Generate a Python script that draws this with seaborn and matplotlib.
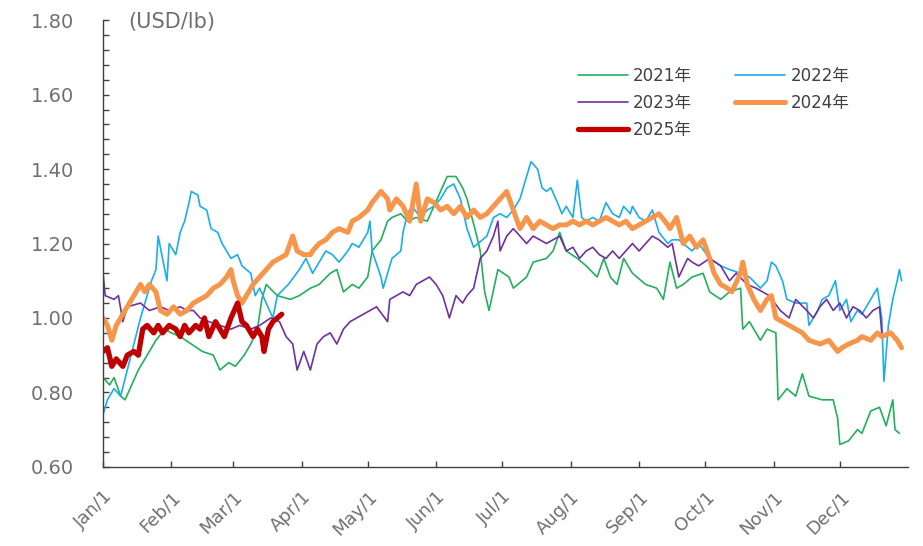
import pandas as pd
import seaborn as sns
import matplotlib.pyplot as plt
from matplotlib.ticker import MultipleLocator

sns.set_style('white')
plt.rcParams['font.family'] = ['DejaVu Sans', 'Noto Sans CJK JP']

# x轴：一年中的第几天，刻度放在每月1日
month_ticks = [0, 31, 59, 90, 120, 151, 181, 212, 243, 273, 304, 334]
month_labels = ['Jan/1', 'Feb/1', 'Mar/1', 'Apr/1', 'May/1', 'Jun/1',
                'Jul/1', 'Aug/1', 'Sep/1', 'Oct/1', 'Nov/1', 'Dec/1']

days_2021 = [0, 3, 5, 8, 10, 13, 16, 20, 24, 28, 31, 35, 40, 45, 50, 53, 57, 60, 64, 67,
             70, 72, 74, 79, 85, 89, 94, 98, 103, 106, 109, 113, 116, 120, 122, 126, 129, 131, 135, 138,
             142, 147, 150, 153, 156, 160, 163, 165, 169, 171, 173, 175, 179, 184, 186, 192, 195, 201, 204, 207,
             210, 215, 219, 224, 227, 230, 233, 236, 240, 246, 251, 254, 257, 260, 263, 267, 272, 275, 280, 284,
             289, 290, 293, 298, 301, 305, 306, 310, 314, 317, 320, 326, 331, 333, 334, 338, 342, 344, 348, 352,
             355, 358, 359, 361]
price_2021 = [0.84, 0.82, 0.84, 0.79, 0.78, 0.82, 0.86, 0.90, 0.94, 0.97, 0.96, 0.95, 0.93, 0.91, 0.90, 0.86, 0.88, 0.87, 0.90, 0.93,
              0.97, 1.05, 1.09, 1.06, 1.05, 1.06, 1.08, 1.09, 1.12, 1.13, 1.07, 1.09, 1.08, 1.11, 1.18, 1.21, 1.26, 1.27, 1.28, 1.26,
              1.27, 1.26, 1.30, 1.34, 1.38, 1.38, 1.35, 1.32, 1.23, 1.18, 1.07, 1.02, 1.13, 1.11, 1.08, 1.11, 1.15, 1.16, 1.18, 1.23,
              1.18, 1.16, 1.14, 1.11, 1.16, 1.11, 1.09, 1.16, 1.12, 1.09, 1.08, 1.05, 1.15, 1.08, 1.09, 1.11, 1.12, 1.07, 1.05, 1.07,
              1.08, 0.97, 0.99, 0.94, 0.97, 0.96, 0.78, 0.81, 0.79, 0.85, 0.79, 0.78, 0.78, 0.73, 0.66, 0.67, 0.70, 0.69, 0.75, 0.76,
              0.71, 0.78, 0.70, 0.69]

days_2022 = [0, 2, 5, 8, 11, 14, 17, 20, 22, 24, 25, 27, 29, 30, 33, 35, 37, 39, 40, 43,
             44, 47, 49, 52, 54, 58, 61, 63, 67, 69, 71, 74, 77, 79, 84, 89, 92, 95, 98, 101,
             104, 107, 111, 113, 116, 120, 121, 122, 126, 127, 129, 131, 135, 136, 138, 140, 144, 147, 150, 153,
             156, 159, 162, 165, 168, 174, 177, 180, 183, 186, 189, 192, 194, 197, 199, 201, 203, 206, 208, 210,
             213, 215, 217, 219, 222, 225, 228, 231, 234, 236, 239, 240, 243, 246, 249, 252, 256, 258, 261, 265,
             267, 270, 275, 280, 284, 289, 293, 298, 301, 303, 305, 308, 310, 314, 319, 320, 324, 326, 329, 332,
             334, 337, 339, 342, 344, 348, 351, 353, 354, 356, 358, 360, 361, 362]
price_2022 = [0.74, 0.78, 0.81, 0.79, 0.86, 0.93, 1.00, 1.06, 1.10, 1.13, 1.22, 1.16, 1.10, 1.20, 1.17, 1.23, 1.26, 1.31, 1.34, 1.33,
              1.30, 1.29, 1.24, 1.23, 1.20, 1.16, 1.17, 1.14, 1.12, 1.06, 1.08, 1.04, 1.00, 1.06, 1.09, 1.13, 1.16, 1.12, 1.15, 1.18,
              1.17, 1.15, 1.18, 1.20, 1.19, 1.23, 1.26, 1.18, 1.11, 1.08, 1.12, 1.16, 1.18, 1.23, 1.28, 1.30, 1.27, 1.29, 1.30, 1.32,
              1.35, 1.36, 1.32, 1.24, 1.19, 1.22, 1.27, 1.28, 1.27, 1.29, 1.32, 1.38, 1.42, 1.40, 1.35, 1.34, 1.35, 1.31, 1.28, 1.30,
              1.27, 1.37, 1.27, 1.26, 1.27, 1.26, 1.31, 1.28, 1.27, 1.30, 1.28, 1.30, 1.27, 1.26, 1.29, 1.23, 1.20, 1.21, 1.21, 1.19,
              1.18, 1.20, 1.16, 1.14, 1.13, 1.12, 1.11, 1.08, 1.10, 1.15, 1.14, 1.10, 1.05, 1.04, 1.04, 0.98, 1.02, 1.05, 1.06, 1.10,
              1.02, 1.05, 0.99, 1.02, 1.01, 1.05, 1.08, 1.00, 0.83, 0.98, 1.05, 1.10, 1.13, 1.10]

days_2023 = [0, 1, 5, 7, 9, 11, 17, 21, 26, 30, 35, 38, 41, 44, 48, 53, 58, 62, 67, 71,
             76, 80, 83, 86, 88, 91, 94, 97, 100, 103, 106, 109, 112, 115, 118, 121, 124, 129, 130, 133,
             136, 139, 142, 145, 148, 151, 154, 157, 160, 163, 165, 168, 171, 174, 177, 179, 180, 183, 186, 189,
             192, 195, 198, 201, 204, 207, 210, 213, 216, 219, 222, 225, 228, 231, 234, 237, 240, 243, 246, 249,
             252, 256, 258, 261, 265, 267, 270, 275, 280, 284, 287, 292, 296, 299, 302, 307, 311, 314, 319, 322,
             325, 328, 331, 334, 337, 340, 343, 346, 349, 352, 353]
price_2023 = [1.12, 1.06, 1.05, 1.06, 0.99, 1.03, 1.04, 1.02, 1.03, 1.02, 1.03, 1.02, 1.02, 1.00, 0.99, 0.98, 0.97, 0.98, 0.97, 0.98,
              1.00, 0.99, 0.95, 0.93, 0.86, 0.91, 0.86, 0.93, 0.95, 0.96, 0.93, 0.97, 0.99, 1.00, 1.01, 1.02, 1.03, 0.99, 1.05, 1.06,
              1.07, 1.06, 1.09, 1.10, 1.11, 1.09, 1.06, 1.00, 1.06, 1.04, 1.06, 1.08, 1.16, 1.18, 1.22, 1.26, 1.18, 1.22, 1.24, 1.22,
              1.20, 1.22, 1.21, 1.20, 1.21, 1.22, 1.18, 1.19, 1.16, 1.18, 1.19, 1.17, 1.16, 1.18, 1.16, 1.18, 1.20, 1.18, 1.20, 1.22,
              1.21, 1.19, 1.20, 1.11, 1.16, 1.15, 1.14, 1.16, 1.14, 1.10, 1.12, 1.09, 1.08, 1.07, 1.06, 1.02, 1.00, 1.05, 1.02, 1.00,
              1.03, 1.05, 1.02, 1.04, 1.00, 1.03, 1.02, 1.00, 1.02, 1.03, 0.96]

days_2024 = [0, 2, 4, 6, 9, 12, 15, 17, 19, 21, 24, 26, 29, 32, 35, 38, 41, 44, 47, 50,
             53, 56, 58, 59, 61, 63, 66, 68, 71, 74, 77, 80, 83, 86, 88, 91, 94, 95, 98, 101,
             104, 107, 111, 113, 116, 120, 122, 126, 129, 130, 133, 136, 139, 142, 144, 147, 150, 153, 156, 159,
             162, 165, 168, 171, 174, 177, 180, 183, 186, 189, 192, 195, 198, 201, 204, 207, 210, 213, 216, 219,
             222, 225, 228, 231, 234, 237, 240, 243, 246, 249, 252, 256, 257, 260, 263, 266, 269, 272, 275, 277,
             280, 283, 285, 289, 290, 292, 295, 298, 301, 303, 305, 308, 311, 314, 317, 320, 325, 329, 333, 335,
             338, 342, 344, 348, 351, 353, 357, 360, 362]
price_2024 = [1.00, 0.98, 0.94, 0.98, 1.01, 1.04, 1.07, 1.09, 1.07, 1.09, 1.07, 1.02, 1.01, 1.03, 1.01, 1.02, 1.04, 1.05, 1.06, 1.08,
              1.09, 1.11, 1.13, 1.10, 1.06, 1.04, 1.07, 1.09, 1.11, 1.13, 1.15, 1.16, 1.17, 1.22, 1.18, 1.17, 1.17, 1.18, 1.20, 1.21,
              1.23, 1.24, 1.23, 1.26, 1.27, 1.29, 1.31, 1.34, 1.32, 1.29, 1.32, 1.30, 1.26, 1.36, 1.26, 1.32, 1.31, 1.29, 1.30, 1.28,
              1.30, 1.27, 1.29, 1.27, 1.28, 1.30, 1.32, 1.34, 1.29, 1.24, 1.27, 1.24, 1.26, 1.25, 1.24, 1.25, 1.25, 1.26, 1.25, 1.26,
              1.25, 1.26, 1.27, 1.26, 1.25, 1.26, 1.24, 1.25, 1.26, 1.27, 1.28, 1.25, 1.24, 1.27, 1.20, 1.22, 1.19, 1.21, 1.16, 1.12,
              1.09, 1.08, 1.07, 1.12, 1.15, 1.09, 1.05, 1.02, 1.05, 1.06, 1.00, 0.99, 0.98, 0.97, 0.96, 0.94, 0.93, 0.94, 0.91, 0.92,
              0.93, 0.94, 0.95, 0.94, 0.96, 0.95, 0.96, 0.94, 0.92]

days_2025 = [0, 2, 4, 6, 9, 11, 14, 16, 18, 20, 23, 25, 27, 30, 33, 35, 37, 39, 42, 44,
             46, 48, 51, 53, 55, 58, 61, 63, 65, 68, 70, 72, 73, 75, 77, 79, 81]
price_2025 = [0.91, 0.92, 0.87, 0.89, 0.87, 0.90, 0.91, 0.90, 0.97, 0.98, 0.96, 0.98, 0.96, 0.98, 0.97, 0.95, 0.98, 0.96, 0.98, 0.97,
              1.00, 0.95, 0.99, 0.97, 0.95, 1.00, 1.04, 0.99, 0.98, 0.95, 0.97, 0.95, 0.91, 0.97, 0.99, 1.00, 1.01]

years = ['2021年', '2022年', '2023年', '2024年', '2025年']
all_days = [days_2021, days_2022, days_2023, days_2024, days_2025]
all_prices = [price_2021, price_2022, price_2023, price_2024, price_2025]
colors = ['#22b05a', '#1aaee8', '#7030a0', '#f7964a', '#c00000']
widths = [1.2, 1.2, 1.2, 3.6, 3.8]

df = pd.concat([pd.DataFrame({'day': d, 'price': p, 'year': y})
                for y, d, p in zip(years, all_days, all_prices)])

fig = plt.figure(figsize=(9.23, 5.46), dpi=100)
ax = fig.add_axes([0.1116, 0.145, 0.8724, 0.818])

for y, c, w in zip(years, colors, widths):
    sns.lineplot(data=df[df['year'] == y], x='day', y='price', color=c,
                 linewidth=w, label=y, estimator=None, ax=ax)

ax.set_xlim(0, 365)
ax.set_ylim(0.6, 1.8)
ax.set_xlabel('')
ax.set_ylabel('')
ax.set_xticks(month_ticks)
ax.set_xticklabels(month_labels, rotation=45, ha='right', va='top', rotation_mode='anchor')
ax.yaxis.set_major_locator(MultipleLocator(0.2))
ax.yaxis.set_minor_locator(MultipleLocator(0.04))
ax.yaxis.set_major_formatter(plt.FormatStrFormatter('%.2f'))
ax.tick_params(axis='y', which='both', direction='in', length=4.5, width=1, color='#404040',
               labelsize=14, labelcolor='#707070', pad=21, left=True)
ax.tick_params(axis='x', direction='in', length=4.5, width=1, color='#404040',
               labelsize=13, labelcolor='#707070', pad=15, bottom=True)

for s in ['top', 'right']:
    ax.spines[s].set_visible(False)
for s in ['left', 'bottom']:
    ax.spines[s].set_color('#404040')
    ax.spines[s].set_linewidth(1.0)

ax.text(0.031, 0.995, '(USD/lb)', transform=ax.transAxes, fontsize=15,
        color='#707070', va='center', ha='left')

h, l = ax.get_legend_handles_labels()
order = [0, 2, 4, 1, 3]
leg = ax.legend([h[i] for i in order], [l[i] for i in order], ncol=2, loc='upper left',
                bbox_to_anchor=(0.59, 0.895), frameon=False, fontsize=12,
                handlelength=3.0, handletextpad=0.3, columnspacing=2.6,
                labelspacing=0.53, borderaxespad=0, borderpad=0)
for t in leg.get_texts():
    t.set_color('#404040')

fig.savefig('out.png', dpi=100)
